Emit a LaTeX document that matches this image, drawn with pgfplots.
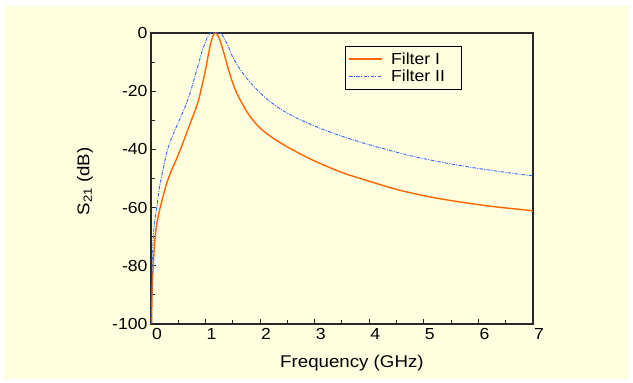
\documentclass[border=0pt]{standalone}
\usepackage{fontspec}
\setmainfont{Liberation Sans}[FakeStretch=1.1]
\usepackage{pgfplots}
\pgfplotsset{compat=1.18}
\definecolor{bgyellow}{RGB}{255,255,224}
\definecolor{orangeI}{RGB}{255,102,0}
\definecolor{blueII}{RGB}{51,102,255}
\definecolor{framec}{RGB}{40,40,40}
\begin{document}
\begin{tikzpicture}
\fill[white] (0,0) rectangle (633pt,383pt);
\fill[bgyellow] (4pt,4pt) rectangle (629pt,377pt);
\begin{axis}[
 at={(151pt,59pt)}, anchor=south west,
 scale only axis, width=382pt, height=291pt,
 xmin=0, xmax=7, ymin=-100, ymax=0,
 xtick={0,...,7}, ytick={-100,-80,...,0},
 minor x tick num=1, minor y tick num=1,
 tick pos=left, tick align=inside,
 major tick length=5pt, minor tick length=4pt,
 every tick/.style={framec, line width=1pt},
 axis line style={framec, line width=1.2pt},
 /pgf/number format/assume math mode=true,
 tick label style={font=\fontsize{16}{19}\selectfont},
 xticklabel style={xshift=6pt, yshift=-1pt},
 label style={font=\fontsize{17}{20}\selectfont},
 xlabel={Frequency (GHz)},
 ylabel={S\textsubscript{21} (dB)},
 xlabel style={at={(axis description cs:0.526,-0.134)}, anchor=center},
 ylabel style={at={(axis description cs:-0.173,0.49)}, anchor=center},
 legend cell align=left,
 legend style={at={(axis description cs:0.508,0.955)}, anchor=north west,
   draw=black, line width=1pt, fill=none,
   font=\fontsize{16}{18.6}\selectfont, inner xsep=3pt, inner ysep=4.5pt, row sep=0pt,
   /tikz/every odd column/.append style={column sep=6pt}},
 legend image code/.code={\draw[#1] (0pt,0.5pt) -- (33pt,0.5pt);},
]
\addlegendimage{orangeI, line width=1.6pt}
\addlegendentry{Filter I\hspace*{12pt}}
\addlegendimage{blueII, line width=0.9pt, dash pattern=on 3.5pt off 1.3pt on 1pt off 1.3pt}
\addlegendentry{Filter II\hspace*{12pt}}
\addplot[orangeI, line width=1.4pt, smooth, tension=0.45, forget plot] coordinates {
(0.01,-100) (0.015,-94) (0.022,-88) (0.035,-82) (0.05,-77) (0.072,-71) (0.107,-65.5)
(0.168,-60) (0.23,-55.5) (0.29,-51.5) (0.38,-47) (0.475,-43) (0.57,-38.5) (0.66,-34)
(0.75,-29.5) (0.82,-26) (0.873,-23) (0.93,-18.5) (0.996,-13) (1.04,-8.5) (1.088,-4)
(1.13,-1.3) (1.16,-0.2) (1.18,0) (1.2,-0.3) (1.235,-1.2) (1.27,-2.8) (1.33,-6.5)
(1.394,-10.8) (1.44,-13.8) (1.486,-16.5) (1.57,-20.6) (1.67,-24.2) (1.79,-28)
(1.915,-31) (2.05,-33.5) (2.22,-35.9) (2.45,-38.6) (2.71,-41.3) (3.0,-44)
(3.32,-46.6) (3.6,-48.6) (3.94,-50.6) (4.25,-52.4) (4.55,-54) (4.85,-55.3) (5.16,-56.5)
(5.47,-57.5) (5.78,-58.4) (6.09,-59.2) (6.39,-59.9) (6.7,-60.5) (7,-61.1)
};
\addplot[blueII, line width=0.9pt, smooth, tension=0.45, dash pattern=on 3.5pt off 1.3pt on 1pt off 1.3pt, forget plot] coordinates {
(0.01,-100) (0.014,-92) (0.022,-80) (0.04,-71) (0.06,-66) (0.08,-63) (0.107,-60)
(0.15,-53.5) (0.199,-49) (0.29,-41) (0.38,-36) (0.475,-31.8) (0.57,-27.8) (0.659,-23.8)
(0.75,-18.5) (0.84,-12.5) (0.873,-10.6) (0.93,-6.5) (0.996,-3.2) (1.04,-1.2) (1.088,0)
(1.18,0) (1.27,0) (1.31,-0.8) (1.36,-2.6) (1.42,-4.8) (1.486,-7.8) (1.55,-10) (1.61,-11.8)
(1.67,-13.5) (1.79,-16.4) (1.915,-19) (2.05,-21.5) (2.22,-24.1) (2.45,-27) (2.71,-29.6)
(3.0,-32) (3.32,-34.3) (3.6,-36.1) (3.94,-38.1) (4.25,-39.7) (4.55,-41.2) (4.85,-42.6)
(5.16,-43.8) (5.47,-44.9) (5.78,-45.9) (6.09,-46.8) (6.39,-47.6) (6.7,-48.4) (7,-49.1)
};
\end{axis}
\end{tikzpicture}
\end{document}
